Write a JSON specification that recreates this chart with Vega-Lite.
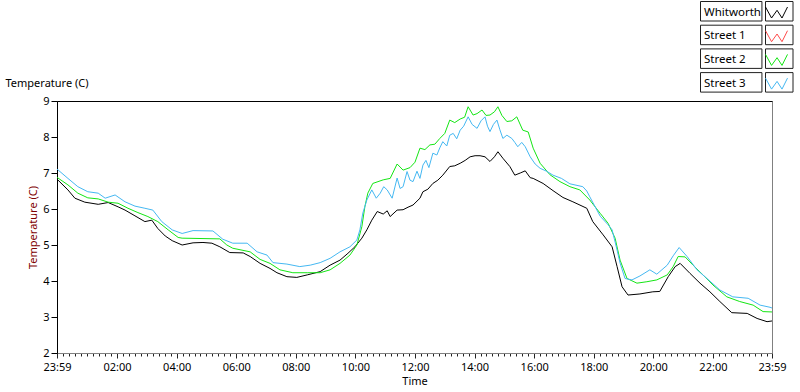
{
  "$schema": "https://vega.github.io/schema/vega-lite/v6.json",
  "width": 715,
  "height": 252,
  "autosize": "none",
  "padding": {"left": 57, "top": 101, "right": 28, "bottom": 39},
  "background": "white",
  "config": {
    "view": {"stroke": "#808080"},
    "font": "Noto Sans",
    "axis": {"labelFont": "Noto Sans", "labelFontSize": 11, "labelColor": "black", "titleFont": "Noto Sans", "titleFontSize": 11, "titleFontWeight": "normal", "titleColor": "black", "grid": false}
  },
  "data": {"values": [
    {"s":"Whitworth","t":-1,"v":6.83},{"s":"Whitworth","t":21,"v":6.53},{"s":"Whitworth","t":35,"v":6.30},{"s":"Whitworth","t":55,"v":6.19},{"s":"Whitworth","t":82,"v":6.13},{"s":"Whitworth","t":102,"v":6.18},{"s":"Whitworth","t":122,"v":6.06},{"s":"Whitworth","t":136,"v":5.97},{"s":"Whitworth","t":156,"v":5.81},{"s":"Whitworth","t":176,"v":5.65},{"s":"Whitworth","t":190,"v":5.69},{"s":"Whitworth","t":202,"v":5.46},{"s":"Whitworth","t":217,"v":5.25},{"s":"Whitworth","t":231,"v":5.12},{"s":"Whitworth","t":251,"v":5.00},{"s":"Whitworth","t":273,"v":5.06},{"s":"Whitworth","t":293,"v":5.07},{"s":"Whitworth","t":311,"v":5.05},{"s":"Whitworth","t":327,"v":4.95},{"s":"Whitworth","t":347,"v":4.79},{"s":"Whitworth","t":374,"v":4.78},{"s":"Whitworth","t":388,"v":4.68},{"s":"Whitworth","t":408,"v":4.49},{"s":"Whitworth","t":428,"v":4.35},{"s":"Whitworth","t":442,"v":4.23},{"s":"Whitworth","t":462,"v":4.12},{"s":"Whitworth","t":482,"v":4.10},{"s":"Whitworth","t":503,"v":4.17},{"s":"Whitworth","t":529,"v":4.26},{"s":"Whitworth","t":549,"v":4.44},{"s":"Whitworth","t":569,"v":4.58},{"s":"Whitworth","t":585,"v":4.77},{"s":"Whitworth","t":599,"v":4.95},{"s":"Whitworth","t":613,"v":5.19},{"s":"Whitworth","t":623,"v":5.42},{"s":"Whitworth","t":633,"v":5.69},{"s":"Whitworth","t":644,"v":5.93},{"s":"Whitworth","t":656,"v":5.86},{"s":"Whitworth","t":664,"v":5.95},{"s":"Whitworth","t":670,"v":5.79},{"s":"Whitworth","t":684,"v":5.97},{"s":"Whitworth","t":696,"v":5.98},{"s":"Whitworth","t":706,"v":6.05},{"s":"Whitworth","t":716,"v":6.11},{"s":"Whitworth","t":730,"v":6.30},{"s":"Whitworth","t":736,"v":6.48},{"s":"Whitworth","t":746,"v":6.55},{"s":"Whitworth","t":756,"v":6.71},{"s":"Whitworth","t":766,"v":6.80},{"s":"Whitworth","t":776,"v":6.94},{"s":"Whitworth","t":790,"v":7.18},{"s":"Whitworth","t":800,"v":7.20},{"s":"Whitworth","t":811,"v":7.27},{"s":"Whitworth","t":821,"v":7.35},{"s":"Whitworth","t":831,"v":7.45},{"s":"Whitworth","t":841,"v":7.48},{"s":"Whitworth","t":851,"v":7.48},{"s":"Whitworth","t":861,"v":7.45},{"s":"Whitworth","t":871,"v":7.32},{"s":"Whitworth","t":880,"v":7.45},{"s":"Whitworth","t":887,"v":7.59},{"s":"Whitworth","t":897,"v":7.41},{"s":"Whitworth","t":911,"v":7.18},{"s":"Whitworth","t":921,"v":6.94},{"s":"Whitworth","t":932,"v":7.00},{"s":"Whitworth","t":942,"v":7.06},{"s":"Whitworth","t":952,"v":6.87},{"s":"Whitworth","t":958,"v":6.85},{"s":"Whitworth","t":978,"v":6.71},{"s":"Whitworth","t":998,"v":6.51},{"s":"Whitworth","t":1018,"v":6.32},{"s":"Whitworth","t":1038,"v":6.20},{"s":"Whitworth","t":1066,"v":6.02},{"s":"Whitworth","t":1078,"v":5.65},{"s":"Whitworth","t":1099,"v":5.28},{"s":"Whitworth","t":1117,"v":4.95},{"s":"Whitworth","t":1127,"v":4.40},{"s":"Whitworth","t":1137,"v":3.84},{"s":"Whitworth","t":1149,"v":3.61},{"s":"Whitworth","t":1173,"v":3.64},{"s":"Whitworth","t":1199,"v":3.70},{"s":"Whitworth","t":1213,"v":3.71},{"s":"Whitworth","t":1230,"v":4.12},{"s":"Whitworth","t":1244,"v":4.40},{"s":"Whitworth","t":1254,"v":4.49},{"s":"Whitworth","t":1274,"v":4.21},{"s":"Whitworth","t":1294,"v":3.94},{"s":"Whitworth","t":1314,"v":3.70},{"s":"Whitworth","t":1334,"v":3.43},{"s":"Whitworth","t":1358,"v":3.12},{"s":"Whitworth","t":1389,"v":3.10},{"s":"Whitworth","t":1409,"v":2.96},{"s":"Whitworth","t":1429,"v":2.87},{"s":"Whitworth","t":1439,"v":2.89},
    {"s":"Street 2","t":-1,"v":6.88},{"s":"Street 2","t":21,"v":6.67},{"s":"Street 2","t":41,"v":6.44},{"s":"Street 2","t":61,"v":6.31},{"s":"Street 2","t":82,"v":6.28},{"s":"Street 2","t":102,"v":6.19},{"s":"Street 2","t":122,"v":6.16},{"s":"Street 2","t":142,"v":6.02},{"s":"Street 2","t":162,"v":5.90},{"s":"Street 2","t":182,"v":5.79},{"s":"Street 2","t":202,"v":5.65},{"s":"Street 2","t":223,"v":5.42},{"s":"Street 2","t":243,"v":5.21},{"s":"Street 2","t":251,"v":5.19},{"s":"Street 2","t":327,"v":5.17},{"s":"Street 2","t":341,"v":5.00},{"s":"Street 2","t":353,"v":4.91},{"s":"Street 2","t":388,"v":4.81},{"s":"Street 2","t":408,"v":4.60},{"s":"Street 2","t":428,"v":4.49},{"s":"Street 2","t":448,"v":4.31},{"s":"Street 2","t":474,"v":4.23},{"s":"Street 2","t":503,"v":4.23},{"s":"Street 2","t":529,"v":4.23},{"s":"Street 2","t":549,"v":4.31},{"s":"Street 2","t":569,"v":4.49},{"s":"Street 2","t":589,"v":4.72},{"s":"Street 2","t":603,"v":5.00},{"s":"Street 2","t":613,"v":5.51},{"s":"Street 2","t":619,"v":6.06},{"s":"Street 2","t":625,"v":6.44},{"s":"Street 2","t":635,"v":6.71},{"s":"Street 2","t":656,"v":6.81},{"s":"Street 2","t":670,"v":6.85},{"s":"Street 2","t":684,"v":7.25},{"s":"Street 2","t":696,"v":7.08},{"s":"Street 2","t":710,"v":7.15},{"s":"Street 2","t":720,"v":7.30},{"s":"Street 2","t":730,"v":7.69},{"s":"Street 2","t":740,"v":7.65},{"s":"Street 2","t":750,"v":7.78},{"s":"Street 2","t":760,"v":7.80},{"s":"Street 2","t":770,"v":7.96},{"s":"Street 2","t":780,"v":8.10},{"s":"Street 2","t":790,"v":8.47},{"s":"Street 2","t":800,"v":8.40},{"s":"Street 2","t":811,"v":8.50},{"s":"Street 2","t":820,"v":8.55},{"s":"Street 2","t":827,"v":8.84},{"s":"Street 2","t":837,"v":8.61},{"s":"Street 2","t":845,"v":8.65},{"s":"Street 2","t":855,"v":8.75},{"s":"Street 2","t":863,"v":8.60},{"s":"Street 2","t":871,"v":8.61},{"s":"Street 2","t":880,"v":8.70},{"s":"Street 2","t":887,"v":8.84},{"s":"Street 2","t":895,"v":8.60},{"s":"Street 2","t":905,"v":8.43},{"s":"Street 2","t":915,"v":8.45},{"s":"Street 2","t":925,"v":8.56},{"s":"Street 2","t":937,"v":8.19},{"s":"Street 2","t":948,"v":8.14},{"s":"Street 2","t":958,"v":7.69},{"s":"Street 2","t":972,"v":7.27},{"s":"Street 2","t":992,"v":6.95},{"s":"Street 2","t":1012,"v":6.76},{"s":"Street 2","t":1032,"v":6.62},{"s":"Street 2","t":1052,"v":6.53},{"s":"Street 2","t":1072,"v":6.25},{"s":"Street 2","t":1093,"v":5.88},{"s":"Street 2","t":1109,"v":5.60},{"s":"Street 2","t":1123,"v":5.19},{"s":"Street 2","t":1133,"v":4.58},{"s":"Street 2","t":1147,"v":4.07},{"s":"Street 2","t":1167,"v":3.94},{"s":"Street 2","t":1187,"v":3.98},{"s":"Street 2","t":1207,"v":4.03},{"s":"Street 2","t":1228,"v":4.17},{"s":"Street 2","t":1240,"v":4.40},{"s":"Street 2","t":1250,"v":4.68},{"s":"Street 2","t":1264,"v":4.67},{"s":"Street 2","t":1280,"v":4.44},{"s":"Street 2","t":1300,"v":4.17},{"s":"Street 2","t":1320,"v":3.89},{"s":"Street 2","t":1348,"v":3.56},{"s":"Street 2","t":1374,"v":3.43},{"s":"Street 2","t":1401,"v":3.33},{"s":"Street 2","t":1421,"v":3.15},{"s":"Street 2","t":1439,"v":3.14},
    {"s":"Street 3","t":-1,"v":7.11},{"s":"Street 3","t":21,"v":6.85},{"s":"Street 3","t":41,"v":6.62},{"s":"Street 3","t":61,"v":6.48},{"s":"Street 3","t":82,"v":6.44},{"s":"Street 3","t":96,"v":6.30},{"s":"Street 3","t":116,"v":6.39},{"s":"Street 3","t":136,"v":6.20},{"s":"Street 3","t":156,"v":6.08},{"s":"Street 3","t":176,"v":6.02},{"s":"Street 3","t":192,"v":5.97},{"s":"Street 3","t":210,"v":5.65},{"s":"Street 3","t":231,"v":5.42},{"s":"Street 3","t":251,"v":5.32},{"s":"Street 3","t":273,"v":5.40},{"s":"Street 3","t":313,"v":5.39},{"s":"Street 3","t":333,"v":5.16},{"s":"Street 3","t":353,"v":5.05},{"s":"Street 3","t":382,"v":5.05},{"s":"Street 3","t":402,"v":4.81},{"s":"Street 3","t":422,"v":4.72},{"s":"Street 3","t":434,"v":4.51},{"s":"Street 3","t":462,"v":4.47},{"s":"Street 3","t":488,"v":4.40},{"s":"Street 3","t":509,"v":4.44},{"s":"Street 3","t":529,"v":4.51},{"s":"Street 3","t":549,"v":4.63},{"s":"Street 3","t":569,"v":4.81},{"s":"Street 3","t":589,"v":4.95},{"s":"Street 3","t":603,"v":5.14},{"s":"Street 3","t":609,"v":5.42},{"s":"Street 3","t":615,"v":5.89},{"s":"Street 3","t":623,"v":6.25},{"s":"Street 3","t":633,"v":6.53},{"s":"Street 3","t":642,"v":6.30},{"s":"Street 3","t":650,"v":6.44},{"s":"Street 3","t":657,"v":6.62},{"s":"Street 3","t":664,"v":6.53},{"s":"Street 3","t":674,"v":6.30},{"s":"Street 3","t":684,"v":6.86},{"s":"Street 3","t":690,"v":6.57},{"s":"Street 3","t":696,"v":6.62},{"s":"Street 3","t":704,"v":7.04},{"s":"Street 3","t":710,"v":6.80},{"s":"Street 3","t":716,"v":6.76},{"s":"Street 3","t":724,"v":7.05},{"s":"Street 3","t":730,"v":6.85},{"s":"Street 3","t":736,"v":7.22},{"s":"Street 3","t":742,"v":7.35},{"s":"Street 3","t":748,"v":7.15},{"s":"Street 3","t":756,"v":7.55},{"s":"Street 3","t":764,"v":7.50},{"s":"Street 3","t":770,"v":7.70},{"s":"Street 3","t":776,"v":7.87},{"s":"Street 3","t":784,"v":7.75},{"s":"Street 3","t":790,"v":8.05},{"s":"Street 3","t":797,"v":8.10},{"s":"Street 3","t":804,"v":7.95},{"s":"Street 3","t":811,"v":8.19},{"s":"Street 3","t":818,"v":8.30},{"s":"Street 3","t":827,"v":8.56},{"s":"Street 3","t":835,"v":8.35},{"s":"Street 3","t":845,"v":8.24},{"s":"Street 3","t":853,"v":8.45},{"s":"Street 3","t":861,"v":8.56},{"s":"Street 3","t":866,"v":8.30},{"s":"Street 3","t":871,"v":8.15},{"s":"Street 3","t":878,"v":8.35},{"s":"Street 3","t":885,"v":8.47},{"s":"Street 3","t":891,"v":8.20},{"s":"Street 3","t":897,"v":7.96},{"s":"Street 3","t":905,"v":8.05},{"s":"Street 3","t":915,"v":7.96},{"s":"Street 3","t":921,"v":7.85},{"s":"Street 3","t":927,"v":7.73},{"s":"Street 3","t":935,"v":7.85},{"s":"Street 3","t":942,"v":7.73},{"s":"Street 3","t":952,"v":7.45},{"s":"Street 3","t":962,"v":7.25},{"s":"Street 3","t":972,"v":7.13},{"s":"Street 3","t":985,"v":7.05},{"s":"Street 3","t":998,"v":6.94},{"s":"Street 3","t":1015,"v":6.85},{"s":"Street 3","t":1032,"v":6.70},{"s":"Street 3","t":1058,"v":6.62},{"s":"Street 3","t":1066,"v":6.50},{"s":"Street 3","t":1072,"v":6.34},{"s":"Street 3","t":1093,"v":5.80},{"s":"Street 3","t":1109,"v":5.56},{"s":"Street 3","t":1117,"v":5.42},{"s":"Street 3","t":1127,"v":4.86},{"s":"Street 3","t":1133,"v":4.50},{"s":"Street 3","t":1143,"v":4.07},{"s":"Street 3","t":1157,"v":4.03},{"s":"Street 3","t":1173,"v":4.14},{"s":"Street 3","t":1193,"v":4.31},{"s":"Street 3","t":1207,"v":4.19},{"s":"Street 3","t":1228,"v":4.44},{"s":"Street 3","t":1240,"v":4.70},{"s":"Street 3","t":1252,"v":4.93},{"s":"Street 3","t":1268,"v":4.68},{"s":"Street 3","t":1288,"v":4.31},{"s":"Street 3","t":1308,"v":4.07},{"s":"Street 3","t":1334,"v":3.75},{"s":"Street 3","t":1360,"v":3.56},{"s":"Street 3","t":1391,"v":3.52},{"s":"Street 3","t":1415,"v":3.33},{"s":"Street 3","t":1435,"v":3.27},{"s":"Street 3","t":1439,"v":3.25}
  ]},
  "layer": [
    {
      "mark": {"type": "rule", "opacity": 0},
      "encoding": {
        "x": {"field": "t", "type": "quantitative", "scale": {"domain": [-1, 1439], "nice": false, "zero": false},
          "axis": {"orient": "bottom", "title": null, "labels": false, "domain": false, "tickSize": 3, "tickColor": "#222", "values": [0,12,24,36,48,60,72,84,96,108,120,132,144,156,168,180,192,204,216,228,240,252,264,276,288,300,312,324,336,348,360,372,384,396,408,420,432,444,456,468,480,492,504,516,528,540,552,564,576,588,600,612,624,636,648,660,672,684,696,708,720,732,744,756,768,780,792,804,816,828,840,852,864,876,888,900,912,924,936,948,960,972,984,996,1008,1020,1032,1044,1056,1068,1080,1092,1104,1116,1128,1140,1152,1164,1176,1188,1200,1212,1224,1236,1248,1260,1272,1284,1296,1308,1320,1332,1344,1356,1368,1380,1392,1404,1416,1428]}}
      }
    },
    {
      "mark": {"type": "rule", "strokeOpacity": 0},
      "encoding": {
        "x": {"field": "t", "type": "quantitative", "axis": {"orient": "top", "title": "Temperature (C)", "titleX": -52, "titleY": -15, "titleAlign": "left", "titleAnchor": "start", "titleBaseline": "alphabetic", "titleAngle": 0, "labels": false, "ticks": false, "domain": true, "domainColor": "black"}},
        "strokeDash": {"field": "s", "type": "nominal", "sort": null,
          "scale": {"domain": ["Whitworth ", "Street 1 ", "Street 2 ", "Street 3 "]},
          "legend": {"orient": "none", "legendX": 643, "legendY": -100, "title": null, "padding": 0, "symbolType": "M-1,-0.5L-0.45,0.5L0.05,-0.2L0.5,0.5L1,-0.5", "symbolSize": 484, "symbolStrokeColor": "transparent", "symbolStrokeWidth": 1, "labelAlign": "left", "labelOffset": -19, "labelFont": "Noto Sans", "labelFontSize": 11.5, "labelColor": "black", "rowPadding": 3.7, "labelLimit": 200,
            "encode": {"entries": {"update": {"stroke": {"value": "#202020"}, "strokeWidth": {"value": 1}, "fill": {"value": "white"}, "width": {"value": 61}, "height": {"value": 19}}}}}}
      }
    },
    {
      "mark": {"type": "line", "strokeWidth": 1, "interpolate": "linear"},
      "encoding": {
        "x": {"field": "t", "type": "quantitative",
          "axis": {"orient": "bottom", "title": "Time", "titlePadding": 3, "values": [-1,120,240,360,480,600,720,840,960,1080,1200,1320,1439], "labelExpr": "datum.value < 0 || datum.value > 1430 ? '23:59' : (datum.value < 600 ? '0' : '') + floor(datum.value / 60) + ':00'", "tickSize": 5, "tickColor": "#222", "domainColor": "#808080", "labelPadding": 3, "labelFlush": false, "labelOverlap": false}},
        "y": {"field": "v", "type": "quantitative", "scale": {"domain": [2, 9], "nice": false, "zero": false},
          "axis": {"title": "Temperature (C)", "titleColor": "#800000", "titlePadding": 4, "values": [2,3,4,5,6,7,8,9], "tickSize": 6, "tickColor": "black", "domainColor": "black", "labelPadding": 2}},
        "color": {"field": "s", "type": "nominal", "sort": null,
          "scale": {"domain": ["Whitworth", "Street 1", "Street 2", "Street 3"], "range": ["#000000", "#ff4a4a", "#14e614", "#45b8f2"]},
          "legend": {"orient": "none", "legendX": 708, "legendY": -100, "title": null, "padding": 0, "symbolType": "M-1,-0.5L-0.45,0.5L0.05,-0.2L0.5,0.5L1,-0.5", "symbolSize": 484, "symbolStrokeWidth": 1, "labelExpr": "''", "labelFont": "Noto Sans", "labelFontSize": 11.5, "rowPadding": 3.7,
            "encode": {"entries": {"update": {"stroke": {"value": "#202020"}, "strokeWidth": {"value": 1}, "fill": {"value": "white"}, "width": {"value": 31}, "height": {"value": 19}}}}}}
      }
    }
  ],
  "resolve": {"axis": {"x": "independent"}}
}
